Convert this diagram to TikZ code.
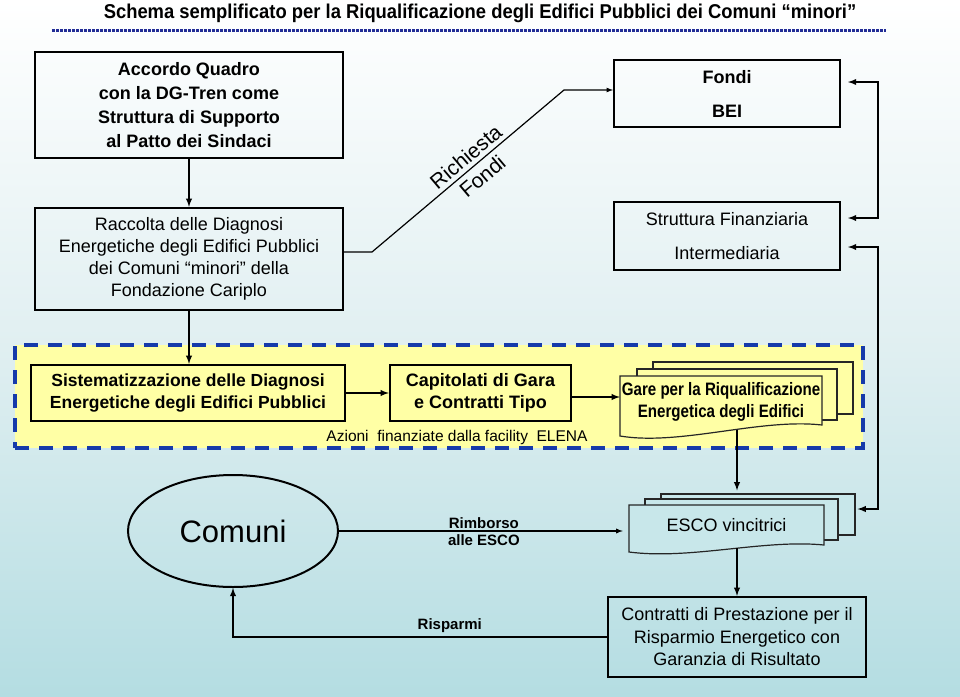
\documentclass[tikz,border=0pt]{standalone}
\usepackage{fontspec}
\setmainfont{Liberation Sans}
\usepackage{graphicx}
\usetikzlibrary{calc,shapes.geometric}
\definecolor{bgtop}{RGB}{255,255,255}
\definecolor{bgmid}{RGB}{224,239,241}
\definecolor{bgbot}{RGB}{180,221,226}
\definecolor{yellowbox}{RGB}{255,255,165}
\definecolor{frameblue}{RGB}{22,58,170}
\definecolor{titleblue}{RGB}{35,45,150}
\definecolor{escofill}{RGB}{200,231,234}

\begin{document}
\begin{tikzpicture}[x=1pt,y=-1pt,>=latex,
    box/.style={draw=black,line width=2.4pt,inner sep=2pt,align=center},
    txt/.style={font=\fontsize{18}{22}\selectfont,align=center},
    boldtxt/.style={font=\fontsize{18}{22}\selectfont\bfseries,align=center},
    sheet/.style={draw=black!85,line width=1.2pt},
    conn/.style={line width=1.8pt}]
    \useasboundingbox (0,0) rectangle (960,696);
    \shade[top color=bgtop,bottom color=bgbot,middle color=bgmid] (0,0) rectangle (960,696);
    % titolo
    \node[font=\fontsize{20}{24}\selectfont\bfseries] (title) at (480,13) {\scalebox{0.92}[1]{Schema semplificato per la Riqualificazione degli Edifici Pubblici dei Comuni “minori”}};
    \draw[titleblue,line width=3pt,dash pattern=on 2.5pt off 1.5pt] (52,30) -- (886,30);
    % riquadri in alto
    \node[box,font=\fontsize{18}{24}\selectfont\bfseries,minimum width=308,minimum height=106] (accordo) at (189,105) {Accordo Quadro\\con la DG-Tren come\\Struttura di Supporto\\al Patto dei Sindaci};
    \node[box,txt,minimum width=308,minimum height=102] (raccolta) at (189,259) {Raccolta delle Diagnosi\\Energetiche degli Edifici Pubblici\\dei Comuni “minori” della\\Fondazione Cariplo};
    \node[box,line width=2pt,font=\fontsize{18}{34}\selectfont\bfseries,minimum width=226,minimum height=67] (fondi) at (727,93.5) {Fondi\\BEI};
    \node[box,line width=2pt,font=\fontsize{18}{34}\selectfont,minimum width=226,minimum height=68] (strutt) at (727,236) {Struttura Finanziaria\\Intermediaria};
    % facility ELENA
    \node[draw=frameblue,fill=yellowbox,line width=4pt,dash pattern=on 14pt off 10pt,minimum width=848,minimum height=103] (facility) at (439,396.5) {};
    \node[font=\fontsize{15.5}{18}\selectfont] (azioni) at (457,437) {Azioni\ \ finanziate dalla facility\ \ ELENA};
    \node[box,fill=yellowbox,font=\fontsize{17.5}{22}\selectfont\bfseries,minimum width=314,minimum height=56] (sistem) at (188,393) {Sistematizzazione delle Diagnosi\\Energetiche degli Edifici Pubblici};
    \node[box,fill=yellowbox,boldtxt,minimum width=181,minimum height=56] (capit) at (480.5,393) {Capitolati di Gara\\e Contratti Tipo};
    \node[sheet,fill=yellowbox,minimum width=200,minimum height=52] (gareB) at (753,388) {};
    \node[sheet,fill=yellowbox,minimum width=200,minimum height=51] (gareM) at (737,394.5) {};
    \draw[sheet,fill=yellowbox] (620,376) -- (822,376) -- (822,425) .. controls (760,418) and (680,446) .. (620,436) -- cycle;
    \node[boldtxt,minimum width=202,minimum height=49,inner sep=0pt] (gare) at (721,402) {\scalebox{0.84}[1]{Gare per la Riqualificazione}\\\scalebox{0.84}[1]{Energetica degli Edifici}};
    % in basso
    \node[sheet,fill=escofill,minimum width=194,minimum height=41] (escoB) at (758,514.5) {};
    \node[sheet,fill=escofill,minimum width=193,minimum height=41] (escoM) at (741.5,519.5) {};
    \draw[sheet,fill=escofill] (629,505) -- (824,505) -- (824,545) .. controls (764,539) and (690,560) .. (629,552) -- cycle;
    \node[txt,minimum width=195,minimum height=40,inner sep=0pt] (esco) at (726.5,525) {ESCO vincitrici};
    \node[ellipse,draw=black,line width=2pt,minimum width=210,minimum height=112,font=\fontsize{31}{36}\selectfont] (comuni) at (233,531) {Comuni};
    \node[box,font=\fontsize{18}{22.5}\selectfont,minimum width=258,minimum height=80] (contr) at (737,637) {Contratti di Prestazione per il\\Risparmio Energetico con\\Garanzia di Risultato};
    % collegamenti
    \draw[conn,->] (accordo) -- (raccolta);
    \draw[conn,->] (raccolta.south) -- (raccolta.south |- sistem.north);
    \draw[conn,->] (sistem) -- (capit);
    \draw[conn,->] (capit.east |- 0,397) -- (gare.west |- 0,397);
    \draw[line width=1.2pt,->] (raccolta.east |- 0,252) -- (372,252) -- node[pos=0.53,above,sloped,inner sep=4pt,font=\fontsize{21}{24}\selectfont]{Richiesta} node[pos=0.53,below,sloped,inner sep=5pt,font=\fontsize{21}{24}\selectfont]{Fondi} (564,90) -- (fondi.west |- 0,90);
    \draw[conn,<->,shorten <=7pt,shorten >=7pt] (fondi.east |- 0,82) -| (878,150) |- (strutt.east |- 0,218);
    \draw[conn,<->,shorten <=7pt,shorten >=2pt] (strutt.east |- 0,247) -| (878,400) |- (escoB.east |- 0,509);
    \draw[conn,->,shorten >=3pt] ($(gare.south -| contr.north)+(0,3)$) -- (escoB.north -| contr.north);
    \draw[conn,->] ($(esco.south -| contr.north)+(0,3)$) -- (contr.north);
    \draw[line width=1.3pt,->,shorten >=6pt] (comuni.east) -- node[above,inner sep=1.5pt,font=\fontsize{15}{17}\selectfont\bfseries]{Rimborso} node[below,inner sep=3pt,font=\fontsize{15}{17}\selectfont\bfseries]{alle ESCO} (comuni.east -| esco.west);
    \draw[conn,->] (contr.west) -| node[pos=0.21,above,inner sep=3pt,font=\fontsize{15}{17}\selectfont\bfseries]{Risparmi} (comuni.south);
\end{tikzpicture}
\end{document}
